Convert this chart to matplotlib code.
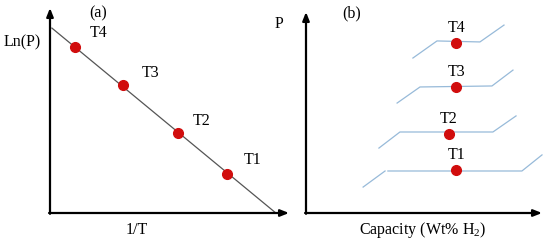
import numpy as np
import matplotlib
matplotlib.use("Agg")
from matplotlib import pyplot as plt

plt.rcParams['font.family'] = ['Liberation Serif', 'DejaVu Serif']
plt.rcParams['mathtext.fontset'] = 'custom'
plt.rcParams['mathtext.rm'] = 'Liberation Serif'

# panel (a): ln(P) vs 1/T
labels = ['T4', 'T3', 'T2', 'T1']
inv_T = [10.5, 30.5, 53.6, 74.1]
ln_P = [81.0, 62.4, 39.0, 19.0]
line_x = [0.8, 94.5]
line_y = [90.2, 0.0]

# panel (b): isotherms, capacity vs P (T1 has a small break before its plateau)
iso_x = {
    'T4': [45.3, 55.5, 73.7, 83.9],
    'T3': [38.6, 48.3, 78.8, 87.7],
    'T2': [30.9, 39.8, 79.2, 89.0],
    'T1': [24.2, 33.5, np.nan, 34.7, 91.5, 100.0],
}
iso_y = {
    'T4': [77.1, 85.6, 85.1, 93.5],
    'T3': [54.7, 62.7, 63.2, 71.1],
    'T2': [32.3, 40.3, 40.3, 48.3],
    'T1': [12.9, 20.9, np.nan, 20.9, 20.9, 28.9],
}
dot_x = [63.6, 63.6, 60.6, 63.6]
dot_y = [84.6, 62.7, 39.3, 21.4]

red = '#d10d0d'
blue = '#97bad9'
fs = 11.5

fig = plt.figure(figsize=(5.5, 2.44), dpi=100)
ax_a = fig.add_axes([50 / 550, 31 / 244, 239 / 550, 205 / 244])
ax_b = fig.add_axes([306 / 550, 31 / 244, 236 / 550, 201 / 244])

for ax in (ax_a, ax_b):
    ax.set_xlim(0, 100)
    ax.set_ylim(0, 100)
    ax.set_xticks([])
    ax.set_yticks([])
    for s in ax.spines.values():
        s.set_visible(False)
    ax.patch.set_alpha(0)
    arrow = dict(arrowstyle='-|>,head_length=0.5,head_width=0.2', color='black', lw=1.6, shrinkA=0, shrinkB=0)
    ax.annotate('', xy=(0, 1), xytext=(0, -0.004), xycoords='axes fraction', arrowprops=arrow)
    ax.annotate('', xy=(1, 0), xytext=(-0.004, 0), xycoords='axes fraction', arrowprops=arrow)

# (a)
ax_a.plot(line_x, line_y, color='#555555', lw=0.9, clip_on=False)
ax_a.plot(inv_T, ln_P, 'o', color=red, ms=7, clip_on=False, zorder=3)
label_offsets = [(17, 10), (20, 8.5), (17, 8.5), (18, 10)]
for lab, x, y, off in zip(labels, inv_T, ln_P, label_offsets):
    ax_a.annotate(lab, (x, y), xytext=off, textcoords='offset points',
                  ha='center', va='center', fontsize=fs)
ax_a.text(20.1, 97.6, '(a)', ha='center', va='center', fontsize=fs)
ax_a.text(-11.7, 83.4, 'Ln(P)', ha='center', va='center', fontsize=fs, clip_on=False)
ax_a.text(36.4, -8.3, '1/T', ha='center', va='center', fontsize=fs, clip_on=False)

# (b)
for lab in labels:
    ax_b.plot(iso_x[lab], iso_y[lab], color=blue, lw=0.9, clip_on=False)
ax_b.plot(dot_x, dot_y, 'o', color=red, ms=7, clip_on=False, zorder=3)
for lab, x, y in zip(labels, dot_x, dot_y):
    ax_b.annotate(lab, (x, y), xytext=(0, 11), textcoords='offset points',
                  ha='center', va='center', fontsize=fs)
ax_b.text(19.5, 99.5, '(b)', ha='center', va='center', fontsize=fs, clip_on=False)
ax_b.text(-11.4, 94.0, 'P', ha='center', va='center', fontsize=fs, clip_on=False)
ax_b.text(49.6, -8.5, 'Capacity (Wt% H$_2$)', ha='center', va='center', fontsize=fs, clip_on=False)

fig.savefig('out.png', dpi=100)
